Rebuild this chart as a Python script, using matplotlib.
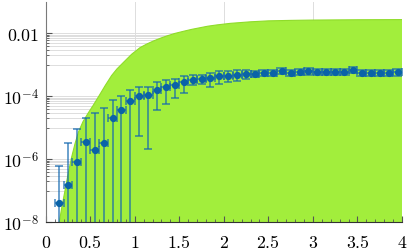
import numpy as np
import matplotlib
matplotlib.use("Agg")
import matplotlib.pyplot as plt
from matplotlib.ticker import FixedLocator, NullFormatter

plt.rcParams['mathtext.fontset'] = 'cm'
plt.rcParams['font.family'] = ['DejaVu Serif']

# ---- data ----
x_centers = [0.15, 0.25, 0.35, 0.45, 0.55, 0.65, 0.75, 0.85, 0.95, 1.05,
             1.15, 1.25, 1.35, 1.45, 1.55, 1.65, 1.75, 1.85, 1.95, 2.05,
             2.15, 2.25, 2.35, 2.45, 2.55, 2.65, 2.75, 2.85, 2.95, 3.05,
             3.15, 3.25, 3.35, 3.45, 3.55, 3.65, 3.75, 3.85, 3.95]
x_halfwidth = 0.05
y_log10 = [-7.41, -6.82, -6.10, -5.47, -5.72, -5.50, -4.68, -4.45, -4.15, -3.99,
           -3.96, -3.80, -3.71, -3.64, -3.56, -3.47, -3.45, -3.43, -3.37, -3.36,
           -3.32, -3.29, -3.30, -3.25, -3.25, -3.20, -3.25, -3.23, -3.21, -3.22,
           -3.22, -3.23, -3.23, -3.17, -3.25, -3.25, -3.25, -3.25, -3.24]
y_upper_log10 = [-6.21, -5.49, -5.05, -4.70, -4.54, -4.37, -4.13, -3.98, -3.81, -3.72,
                 -3.69, -3.56, -3.49, -3.44, -3.36, -3.33, -3.33, -3.27, -3.21, -3.21,
                 -3.17, -3.15, -3.19, -3.15, -3.15, -3.10, -3.15, -3.13, -3.11, -3.12,
                 -3.12, -3.13, -3.13, -3.07, -3.15, -3.15, -3.15, -3.15, -3.14]
y_lower_log10 = [-12, -12, -12, -12, -12, -12, -12, -12, -12, -5.26,
                 -5.68, -4.43, -4.23, -4.06, -3.91, -3.64, -3.60, -3.70, -3.60, -3.56,
                 -3.50, -3.46, -3.40, -3.35, -3.35, -3.30, -3.35, -3.33, -3.31, -3.32,
                 -3.32, -3.33, -3.33, -3.27, -3.35, -3.35, -3.35, -3.35, -3.34]

curve_x = [0.14, 0.153, 0.18, 0.21, 0.25, 0.29, 0.33, 0.37, 0.42, 0.48, 0.535,
           0.60, 0.67, 0.74, 0.80, 0.87, 0.966, 1.06, 1.14, 1.21, 1.29, 1.36, 1.45,
           1.55, 1.64, 1.73, 1.82, 1.92, 2.07, 2.3, 2.5, 2.75, 3.0, 3.5, 4.0]
curve_log10 = [-9.0, -8.0, -7.55, -7.1, -6.5, -5.95, -5.5, -5.12, -4.80, -4.52, -4.28,
               -3.98, -3.65, -3.34, -3.13, -2.93, -2.66, -2.45, -2.33, -2.24, -2.15, -2.08, -2.00,
               -1.93, -1.87, -1.82, -1.77, -1.73, -1.68, -1.63, -1.60, -1.585, -1.575, -1.565, -1.56]

x_ticks = [0, 0.5, 1, 1.5, 2, 2.5, 3, 3.5, 4]
x_tick_labels = ['$0$', '$0.5$', '$1$', '$1.5$', '$2$', '$2.5$', '$3$', '$3.5$', '$4$']
y_ticks = [1e-8, 1e-6, 1e-4, 1e-2]
y_tick_labels = ['$10^{-8}$', '$10^{-6}$', '$10^{-4}$', '$0.01$']

# ---- figure ----
fig = plt.figure(figsize=(4.07, 2.53), dpi=100)
ax = fig.add_axes([45.7 / 407, 30 / 253, (402 - 45.7) / 407, 220 / 253])
ax.set_yscale('log')
ax.set_xlim(0, 4)
ax.set_ylim(1e-8, 1e-1)

# grid
minor_y = [m * 10.0 ** k for k in (-3, -5, -7) for m in range(1, 10)]
for yv in minor_y + y_ticks:
    ax.axhline(yv, color='#dddddd', lw=0.7, zorder=0)
for xv in [1, 2, 3]:
    ax.axvline(xv, color='#dddddd', lw=0.7, zorder=0)

# fill
cx = np.array(curve_x)
cy = 10.0 ** np.array(curve_log10)
ax.fill_between(cx, 1e-12, cy, color='#a2ee3c', lw=0, zorder=1)
ax.plot(cx, cy, color='#8fdc2a', lw=0.8, zorder=1.5)

# error bars
xc = np.array(x_centers)
yv = 10.0 ** np.array(y_log10)
yu = 10.0 ** np.array(y_upper_log10)
yl = 10.0 ** np.array(y_lower_log10)
err = np.vstack([yv - yl, yu - yv])
ax.errorbar(xc, yv, yerr=err, xerr=x_halfwidth, fmt='none',
            ecolor='#1468b0', elinewidth=1.1, capsize=2.8, capthick=1.1,
            alpha=0.8, zorder=3)
ax.plot(xc, yv, 'o', color='#0a63a8', ms=4.2, mec='#0a63a8', zorder=4)

# ticks
ax.set_xticks(x_ticks)
ax.set_xticklabels(x_tick_labels, fontsize=12.8)
ax.xaxis.set_minor_locator(FixedLocator(np.arange(0, 4.01, 0.1)))
ax.set_yticks(y_ticks)
ax.set_yticklabels(y_tick_labels, fontsize=12.8)
ax.yaxis.set_minor_locator(FixedLocator(minor_y))
ax.yaxis.set_minor_formatter(NullFormatter())
ax.tick_params(axis='x', which='major', pad=8)
ax.tick_params(axis='y', which='major', pad=5)
ax.tick_params(axis='both', which='major', direction='in', length=4, width=0.8,
               color='#555555')
ax.tick_params(axis='both', which='minor', direction='in', length=2, width=0.6,
               color='#555555')
ax.tick_params(top=False, right=False, which='both')

for s in ['top', 'right']:
    ax.spines[s].set_visible(False)
ax.spines['left'].set_color('#7a7a7a')
ax.spines['bottom'].set_color('#333333')
ax.spines['left'].set_linewidth(0.8)
ax.spines['bottom'].set_linewidth(0.8)
ax.spines['left'].set_zorder(5)
ax.spines['bottom'].set_zorder(5)

fig.savefig('out.png', dpi=100)
